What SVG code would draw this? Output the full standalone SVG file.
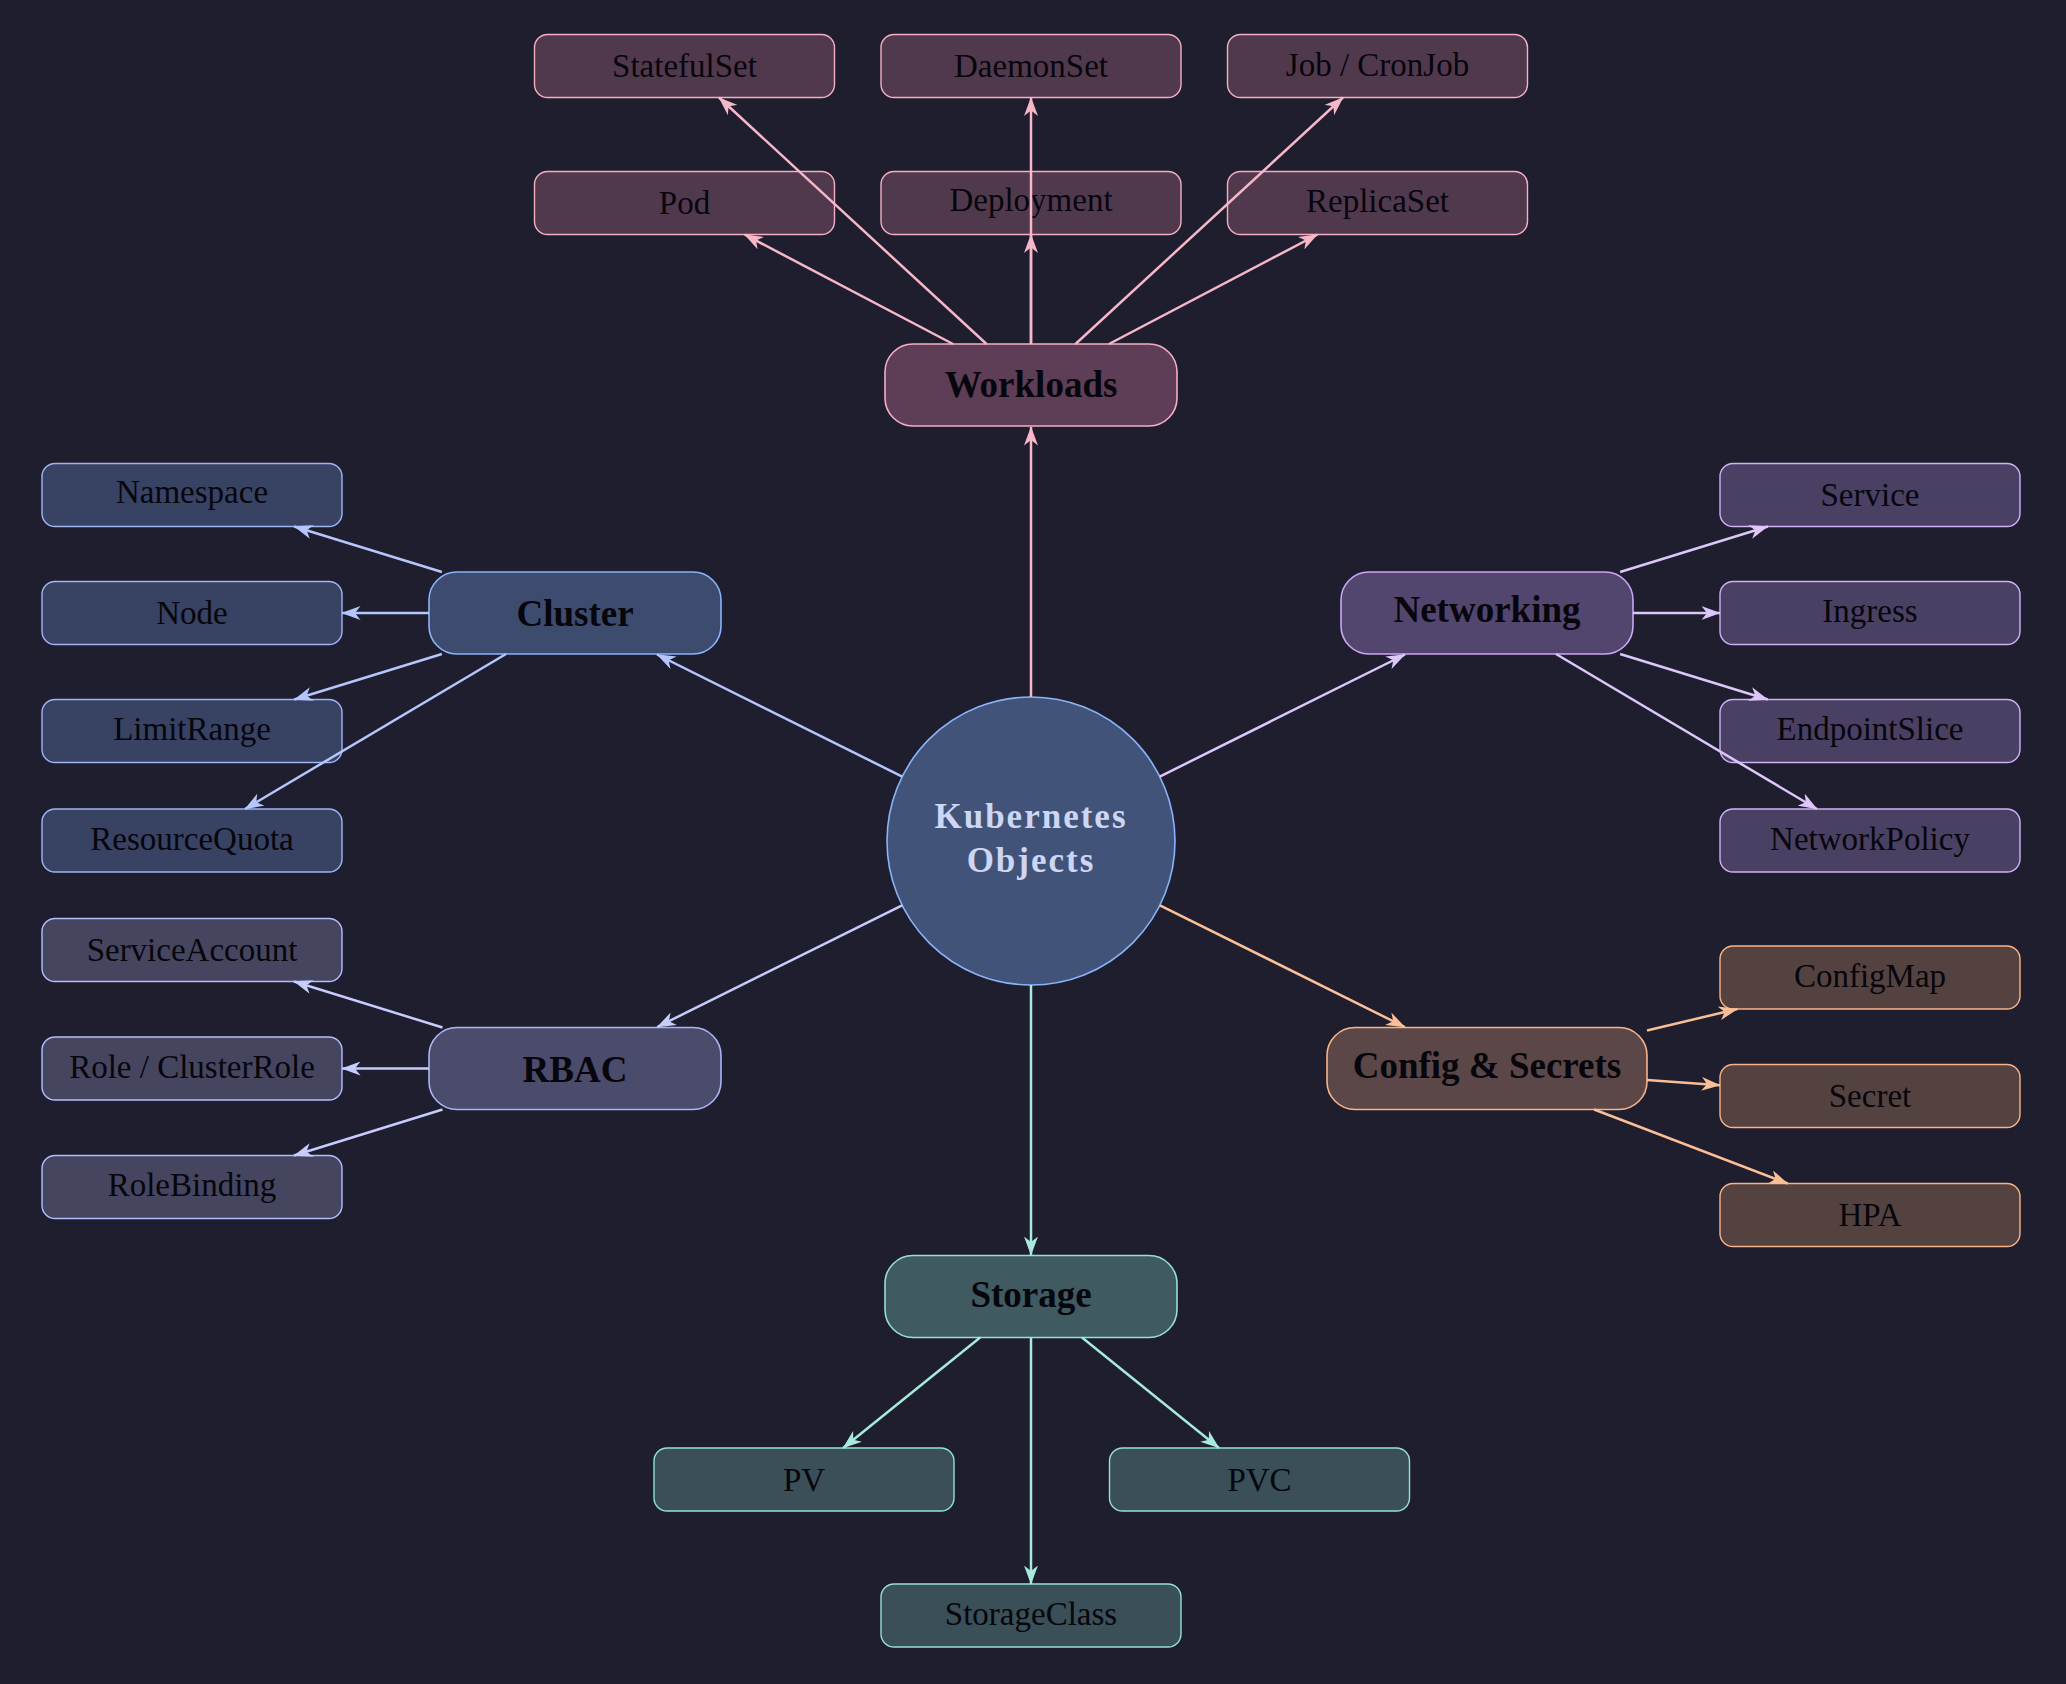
<svg xmlns="http://www.w3.org/2000/svg" width="2066" height="1684" viewBox="0 0 2066 1684">
<defs>
<style>
.bg{fill:#1e1e2e}
text{font-family:"Liberation Serif","Times New Roman",serif;fill:#06060c;text-anchor:middle}
.leaf text{font-size:33px}
.cat text{font-size:37px;font-weight:bold}
.ctr text{font-size:35px;font-weight:bold;fill:#cdd6f4;letter-spacing:2px}
.e{fill:none;stroke-width:2.5}
.wk .c{fill:#5e3d56;stroke:#f5aec3;stroke-width:1.6}
.wk .l{fill:#51394d;stroke:#f5aec3;stroke-width:1.4}
.cl .c{fill:#3d4b6e;stroke:#89b4fa;stroke-width:1.6}
.cl .l{fill:#384263;stroke:#9fb6f3;stroke-width:1.4}
.nw .c{fill:#52466e;stroke:#cba6f7;stroke-width:1.6}
.nw .l{fill:#4a4063;stroke:#cfb2f6;stroke-width:1.4}
.rb .c{fill:#4b4b6c;stroke:#a9b6f5;stroke-width:1.6}
.rb .l{fill:#45455f;stroke:#b4befe;stroke-width:1.4}
.cs .c{fill:#5c4748;stroke:#fab387;stroke-width:1.6}
.cs .l{fill:#544240;stroke:#fab387;stroke-width:1.4}
.st .c{fill:#3f5a61;stroke:#94e2d5;stroke-width:1.6}
.st .l{fill:#3a4f57;stroke:#94e2d5;stroke-width:1.4}
.ewk{stroke:#f7b7c8}
.ecl{stroke:#b4c6fb}
.enw{stroke:#dcc6fa}
.erb{stroke:#c6cdfd}
.ecs{stroke:#fbbf98}
.est{stroke:#a8e9dd}
</style>
<marker id="mwk" viewBox="0 0 19 14" refX="18.5" refY="7" markerWidth="19" markerHeight="14" markerUnits="userSpaceOnUse" orient="auto"><path d="M0,0 L19,7 L0,14 L5.5,7 z" fill="#f7b7c8"/></marker>
<marker id="mcl" viewBox="0 0 19 14" refX="18.5" refY="7" markerWidth="19" markerHeight="14" markerUnits="userSpaceOnUse" orient="auto"><path d="M0,0 L19,7 L0,14 L5.5,7 z" fill="#b4c6fb"/></marker>
<marker id="mnw" viewBox="0 0 19 14" refX="18.5" refY="7" markerWidth="19" markerHeight="14" markerUnits="userSpaceOnUse" orient="auto"><path d="M0,0 L19,7 L0,14 L5.5,7 z" fill="#dcc6fa"/></marker>
<marker id="mrb" viewBox="0 0 19 14" refX="18.5" refY="7" markerWidth="19" markerHeight="14" markerUnits="userSpaceOnUse" orient="auto"><path d="M0,0 L19,7 L0,14 L5.5,7 z" fill="#c6cdfd"/></marker>
<marker id="mcs" viewBox="0 0 19 14" refX="18.5" refY="7" markerWidth="19" markerHeight="14" markerUnits="userSpaceOnUse" orient="auto"><path d="M0,0 L19,7 L0,14 L5.5,7 z" fill="#fbbf98"/></marker>
<marker id="mst" viewBox="0 0 19 14" refX="18.5" refY="7" markerWidth="19" markerHeight="14" markerUnits="userSpaceOnUse" orient="auto"><path d="M0,0 L19,7 L0,14 L5.5,7 z" fill="#a8e9dd"/></marker>
</defs>
<rect class="bg" x="0" y="0" width="2066" height="1684"/>

<g id="nodes">
<g id="center" class="ctr">
<circle cx="1031" cy="841" r="144" fill="#425379" stroke="#89b4fa" stroke-width="1.6"/>
<text x="1031" y="828">Kubernetes</text>
<text x="1031" y="872">Objects</text>
</g>

<g class="wk">
<g id="workloads" class="cat"><rect class="c" x="885" y="344" width="292" height="82" rx="28"/><text x="1031" y="397">Workloads</text></g>
<g id="statefulset" class="leaf"><rect class="l" x="534.5" y="34.5" width="300" height="63" rx="13"/><text x="684.5" y="77">StatefulSet</text></g>
<g id="daemonset" class="leaf"><rect class="l" x="881" y="34.5" width="300" height="63" rx="13"/><text x="1031" y="77">DaemonSet</text></g>
<g id="job" class="leaf"><rect class="l" x="1227.5" y="34.5" width="300" height="63" rx="13"/><text x="1377.5" y="76">Job / CronJob</text></g>
<g id="pod" class="leaf"><rect class="l" x="534.5" y="171.5" width="300" height="63" rx="13"/><text x="684.5" y="214">Pod</text></g>
<g id="deployment" class="leaf"><rect class="l" x="881" y="171.5" width="300" height="63" rx="13"/><text x="1031" y="211">Deployment</text></g>
<g id="replicaset" class="leaf"><rect class="l" x="1227.5" y="171.5" width="300" height="63" rx="13"/><text x="1377.5" y="212">ReplicaSet</text></g>
</g>

<g class="cl">
<g id="cluster" class="cat"><rect class="c" x="429" y="572" width="292" height="82" rx="28"/><text x="575" y="626">Cluster</text></g>
<g id="namespace" class="leaf"><rect class="l" x="42" y="463.5" width="300" height="63" rx="13"/><text x="192" y="503">Namespace</text></g>
<g id="node" class="leaf"><rect class="l" x="42" y="581.5" width="300" height="63" rx="13"/><text x="192" y="624">Node</text></g>
<g id="limitrange" class="leaf"><rect class="l" x="42" y="699.5" width="300" height="63" rx="13"/><text x="192" y="740">LimitRange</text></g>
<g id="resourcequota" class="leaf"><rect class="l" x="42" y="809" width="300" height="63" rx="13"/><text x="192" y="850">ResourceQuota</text></g>
</g>

<g class="nw">
<g id="networking" class="cat"><rect class="c" x="1341" y="572" width="292" height="82" rx="28"/><text x="1487" y="622">Networking</text></g>
<g id="service" class="leaf"><rect class="l" x="1720" y="463.5" width="300" height="63" rx="13"/><text x="1870" y="506">Service</text></g>
<g id="ingress" class="leaf"><rect class="l" x="1720" y="581.5" width="300" height="63" rx="13"/><text x="1870" y="622">Ingress</text></g>
<g id="endpointslice" class="leaf"><rect class="l" x="1720" y="699.5" width="300" height="63" rx="13"/><text x="1870" y="740">EndpointSlice</text></g>
<g id="networkpolicy" class="leaf"><rect class="l" x="1720" y="809" width="300" height="63" rx="13"/><text x="1870" y="850">NetworkPolicy</text></g>
</g>

<g class="rb">
<g id="rbac" class="cat"><rect class="c" x="429" y="1027.5" width="292" height="82" rx="28"/><text x="575" y="1082">RBAC</text></g>
<g id="serviceaccount" class="leaf"><rect class="l" x="42" y="918.5" width="300" height="63" rx="13"/><text x="192" y="961">ServiceAccount</text></g>
<g id="role" class="leaf"><rect class="l" x="42" y="1037" width="300" height="63" rx="13"/><text x="192" y="1078">Role / ClusterRole</text></g>
<g id="rolebinding" class="leaf"><rect class="l" x="42" y="1155.5" width="300" height="63" rx="13"/><text x="192" y="1196">RoleBinding</text></g>
</g>

<g class="cs">
<g id="config" class="cat"><rect class="c" x="1327" y="1027.5" width="320" height="82" rx="28"/><text x="1487" y="1078">Config &amp; Secrets</text></g>
<g id="configmap" class="leaf"><rect class="l" x="1720" y="946" width="300" height="63" rx="13"/><text x="1870" y="987">ConfigMap</text></g>
<g id="secret" class="leaf"><rect class="l" x="1720" y="1064.5" width="300" height="63" rx="13"/><text x="1870" y="1107">Secret</text></g>
<g id="hpa" class="leaf"><rect class="l" x="1720" y="1183.5" width="300" height="63" rx="13"/><text x="1870" y="1226">HPA</text></g>
</g>

<g class="st">
<g id="storage" class="cat"><rect class="c" x="885" y="1255.5" width="292" height="82" rx="28"/><text x="1031" y="1307">Storage</text></g>
<g id="pv" class="leaf"><rect class="l" x="654" y="1448" width="300" height="63" rx="13"/><text x="804" y="1491">PV</text></g>
<g id="pvc" class="leaf"><rect class="l" x="1109.5" y="1448" width="300" height="63" rx="13"/><text x="1259.5" y="1491">PVC</text></g>
<g id="storageclass" class="leaf"><rect class="l" x="881" y="1584" width="300" height="63" rx="13"/><text x="1031" y="1625">StorageClass</text></g>
</g>
</g>

<g id="connectors">
<line class="e ewk" x1="1031" y1="697" x2="1031" y2="427" marker-end="url(#mwk)"/>
<line class="e est" x1="1031" y1="985" x2="1031" y2="1255" marker-end="url(#mst)"/>
<line class="e ecl" x1="902.2" y1="776.6" x2="657" y2="654.5" marker-end="url(#mcl)"/>
<line class="e enw" x1="1159.8" y1="776.6" x2="1405" y2="654.5" marker-end="url(#mnw)"/>
<line class="e erb" x1="902.1" y1="905.3" x2="657.2" y2="1027" marker-end="url(#mrb)"/>
<line class="e ecs" x1="1159.9" y1="905.3" x2="1404.8" y2="1027" marker-end="url(#mcs)"/>

<line class="e ewk" x1="953" y1="344" x2="744.5" y2="234.5" marker-end="url(#mwk)"/>
<line class="e ewk" x1="986.5" y1="344" x2="719" y2="97.5" marker-end="url(#mwk)"/>
<line class="e ewk" x1="1031" y1="344" x2="1031" y2="234.5" marker-end="url(#mwk)"/>
<line class="e ewk" x1="1031" y1="344" x2="1031" y2="97.5" marker-end="url(#mwk)"/>
<line class="e ewk" x1="1075.5" y1="344" x2="1343" y2="97.5" marker-end="url(#mwk)"/>
<line class="e ewk" x1="1109" y1="344" x2="1317.5" y2="234.5" marker-end="url(#mwk)"/>

<line class="e ecl" x1="441.9" y1="572" x2="294.2" y2="526.5" marker-end="url(#mcl)"/>
<line class="e ecl" x1="429" y1="613" x2="342" y2="613" marker-end="url(#mcl)"/>
<line class="e ecl" x1="441.9" y1="654" x2="294.2" y2="699.5" marker-end="url(#mcl)"/>
<line class="e ecl" x1="506" y1="654" x2="245" y2="809" marker-end="url(#mcl)"/>

<line class="e enw" x1="1620.1" y1="572" x2="1767.8" y2="526.5" marker-end="url(#mnw)"/>
<line class="e enw" x1="1633" y1="613" x2="1720" y2="613" marker-end="url(#mnw)"/>
<line class="e enw" x1="1620.1" y1="654" x2="1767.8" y2="699.5" marker-end="url(#mnw)"/>
<line class="e enw" x1="1556" y1="654" x2="1817" y2="809" marker-end="url(#mnw)"/>

<line class="e erb" x1="442.5" y1="1027.5" x2="294" y2="981.5" marker-end="url(#mrb)"/>
<line class="e erb" x1="429" y1="1068.5" x2="342" y2="1068.5" marker-end="url(#mrb)"/>
<line class="e erb" x1="442.5" y1="1109.5" x2="294" y2="1155.5" marker-end="url(#mrb)"/>

<line class="e ecs" x1="1647" y1="1030.5" x2="1737.4" y2="1009" marker-end="url(#mcs)"/>
<line class="e ecs" x1="1647" y1="1080" x2="1720" y2="1085.2" marker-end="url(#mcs)"/>
<line class="e ecs" x1="1594.2" y1="1109.5" x2="1787.7" y2="1183.5" marker-end="url(#mcs)"/>

<line class="e est" x1="980.1" y1="1337.5" x2="843.1" y2="1448" marker-end="url(#mst)"/>
<line class="e est" x1="1082" y1="1337.5" x2="1219" y2="1448" marker-end="url(#mst)"/>
<line class="e est" x1="1031" y1="1337.5" x2="1031" y2="1584" marker-end="url(#mst)"/>
</g>
</svg>
